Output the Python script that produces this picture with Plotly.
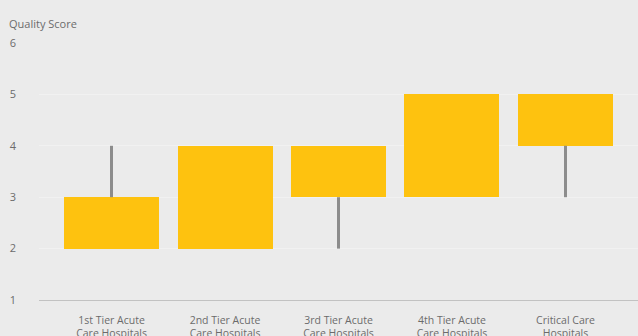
import plotly.graph_objects as go

categories = ["1st Tier Acute<br>Care Hospitals", "2nd Tier Acute<br>Care Hospitals",
              "3rd Tier Acute<br>Care Hospitals", "4th Tier Acute<br>Care Hospitals",
              "Critical Care<br>Hospitals"]
box_low = [2, 2, 3, 3, 4]
box_high = [3, 4, 4, 5, 5]
whisker_low = [3, None, 2, None, 3]
whisker_high = [4, None, 3, None, 4]
y_ticks = [1, 2, 3, 4, 5, 6]

BG = "#ebebeb"
BAR = "#fec20f"
FONT = "Open Sans"
TXT = "#6b6b6b"

fig = go.Figure()

fig.add_trace(go.Bar(x=categories,
                     y=[h - l for h, l in zip(box_high, box_low)],
                     base=box_low, width=0.837,
                     marker=dict(color=BAR, line=dict(width=0)),
                     showlegend=False))

wx, wy = [], []
for c, lo, hi in zip(categories, whisker_low, whisker_high):
    if lo is None:
        continue
    wx += [c, c, None]
    wy += [lo, hi, None]
fig.add_trace(go.Scatter(x=wx, y=wy, mode="lines",
                         line=dict(color="#8c8c8c", width=3),
                         hoverinfo="skip", showlegend=False))

fig.update_layout(
    width=638, height=336,
    margin=dict(l=39, r=0, t=43, b=36),
    paper_bgcolor=BG, plot_bgcolor=BG,
    font=dict(family=FONT, size=11, color=TXT),
    title=dict(text="Quality Score", x=9/638, xanchor="left", xref="container",
               y=1 - 24/336, yanchor="middle", yref="container",
               font=dict(family=FONT, size=11, color=TXT)),
    bargap=0,
)
fig.update_xaxes(range=[-0.639, 4.639], showgrid=False, showline=True,
                 categoryorder="array", categoryarray=categories,
                 linecolor="#c2c2c2", linewidth=1, ticks="", zeroline=False,
                 automargin=False,
                 tickfont=dict(size=10.5, color=TXT), ticklabelstandoff=10)
fig.update_yaxes(range=[1, 6], tickvals=y_ticks, showgrid=True,
                 gridcolor="#f1f1f1", gridwidth=1, zeroline=False, showline=False,
                 automargin=False,
                 ticks="", tickfont=dict(size=11, color=TXT),
                 ticklabelstandoff=22)

fig.write_html("out.html")
